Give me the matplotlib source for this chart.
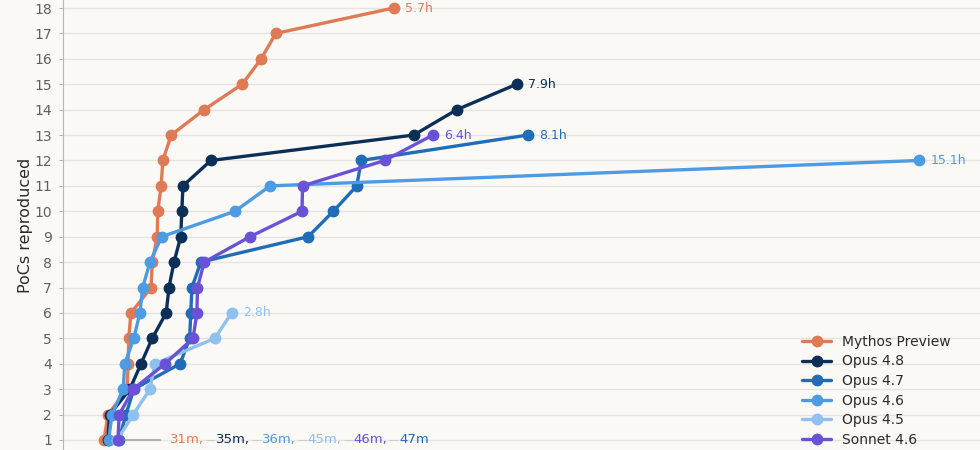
import matplotlib
matplotlib.use("Agg")
import matplotlib.pyplot as plt

# ---- data (hours elapsed when the n-th PoC was reproduced) ----
counts_mythos = list(range(1, 19))
hours_mythos = [0.517, 0.59, 0.93, 0.95, 0.96, 1.0, 1.36, 1.38, 1.47, 1.48, 1.54, 1.57,
                1.72, 2.31, 2.99, 3.33, 3.59, 5.7]

counts_opus48 = list(range(1, 16))
hours_opus48 = [0.583, 0.62, 0.98, 1.18, 1.38, 1.63, 1.68, 1.77, 1.89, 1.91, 1.93, 2.43,
                6.06, 6.83, 7.9]

counts_opus47 = list(range(1, 14))
hours_opus47 = [0.783, 0.91, 1.05, 1.88, 2.05, 2.07, 2.09, 2.25, 4.17, 4.62, 5.04, 5.12, 8.1]

counts_opus46 = list(range(1, 13))
hours_opus46 = [0.6, 0.66, 0.86, 0.89, 1.05, 1.16, 1.21, 1.34, 1.55, 2.86, 3.49, 15.1]

counts_opus45 = list(range(1, 7))
hours_opus45 = [0.75, 1.04, 1.34, 1.43, 2.5, 2.8]

counts_sonnet46 = list(range(1, 14))
hours_sonnet46 = [0.767, 0.79, 1.04, 1.61, 2.11, 2.18, 2.19, 2.31, 3.13, 4.06, 4.07, 5.54, 6.4]

series_names = ["Mythos Preview", "Opus 4.8", "Opus 4.7", "Opus 4.6", "Opus 4.5", "Sonnet 4.6"]
series_hours = [hours_mythos, hours_opus48, hours_opus47, hours_opus46, hours_opus45, hours_sonnet46]
series_counts = [counts_mythos, counts_opus48, counts_opus47, counts_opus46, counts_opus45, counts_sonnet46]
series_colors = ["#E07A55", "#0B2F57", "#1F6DB8", "#4C9BE3", "#8EC0F0", "#6A52D6"]

yticks = list(range(1, 19))
ylabel = "PoCs reproduced"

# ---- figure ----
BG = "#FAF9F6"
plt.rcParams['font.family'] = ['DejaVu Sans']
fig = plt.figure(figsize=(9.8, 4.5), dpi=100, facecolor=BG)
ax = fig.add_axes([63 / 980, 0.0, 1 - 63 / 980, 1.0], facecolor=BG)

for name, hrs, cnt, col in zip(series_names, series_hours, series_counts, series_colors):
    ax.plot(hrs, cnt, color=col, lw=2.4, marker="o", ms=7.5, label=name,
            solid_capstyle="round", zorder=3)
    ax.annotate(f"{hrs[-1]:.1f}h", xy=(hrs[-1], cnt[-1]), xytext=(8, 0),
                textcoords="offset points", va="center", ha="left",
                color=col, fontsize=9)

ax.set_xlim(-0.216, 16.19)
ax.set_ylim(0.606, 18.315)
ax.set_yticks(yticks)
ax.set_xticks([])
ax.grid(axis="y", color="#E6E4DF", lw=1, zorder=0)
for s in ["top", "right", "bottom"]:
    ax.spines[s].set_visible(False)
ax.spines["left"].set_color("#B8B6B1")
ax.tick_params(axis="y", colors="#B8B6B1", length=3, pad=5, labelsize=10,
               labelcolor="#5F5F5F")
ax.set_ylabel(ylabel, fontsize=11.5, color="#2B2B2B", labelpad=1)

# ---- first-PoC time labels along the bottom ----
order = sorted(range(len(series_names)), key=lambda i: series_hours[i][0])
first_max = max(h[0] for h in series_hours)
prev = None
for k, i in enumerate(order):
    txt = f"{round(series_hours[i][0] * 60)}m" + ("," if k < len(order) - 1 else "")
    if prev is None:
        prev = ax.annotate(txt, xy=(first_max, 1), xytext=(37, 0), textcoords="offset points",
                           va="center", ha="left", color=series_colors[i], fontsize=9.5,
                           arrowprops=dict(arrowstyle="-", color="#9A9895", lw=1,
                                           shrinkA=5, shrinkB=4))
    else:
        dash = ax.annotate("—", xy=(1, 0.5), xycoords=prev, xytext=(1.2, 0),
                           textcoords="offset points", va="center", ha="left",
                           color="#C9C7C2", fontsize=7)
        prev = ax.annotate(txt, xy=(1, 0.5), xycoords=dash, xytext=(0.3, 0),
                           textcoords="offset points", va="center", ha="left",
                           color=series_colors[i], fontsize=9.5)

leg = ax.legend(loc="upper left", bbox_to_anchor=((795 - 63) / 917, 1 - 328 / 450),
                frameon=False, fontsize=10, handlelength=2.1, handletextpad=0.75,
                borderpad=0, labelspacing=0.40, labelcolor="#2B2B2B")

fig.savefig("out.png", dpi=100, facecolor=BG)
